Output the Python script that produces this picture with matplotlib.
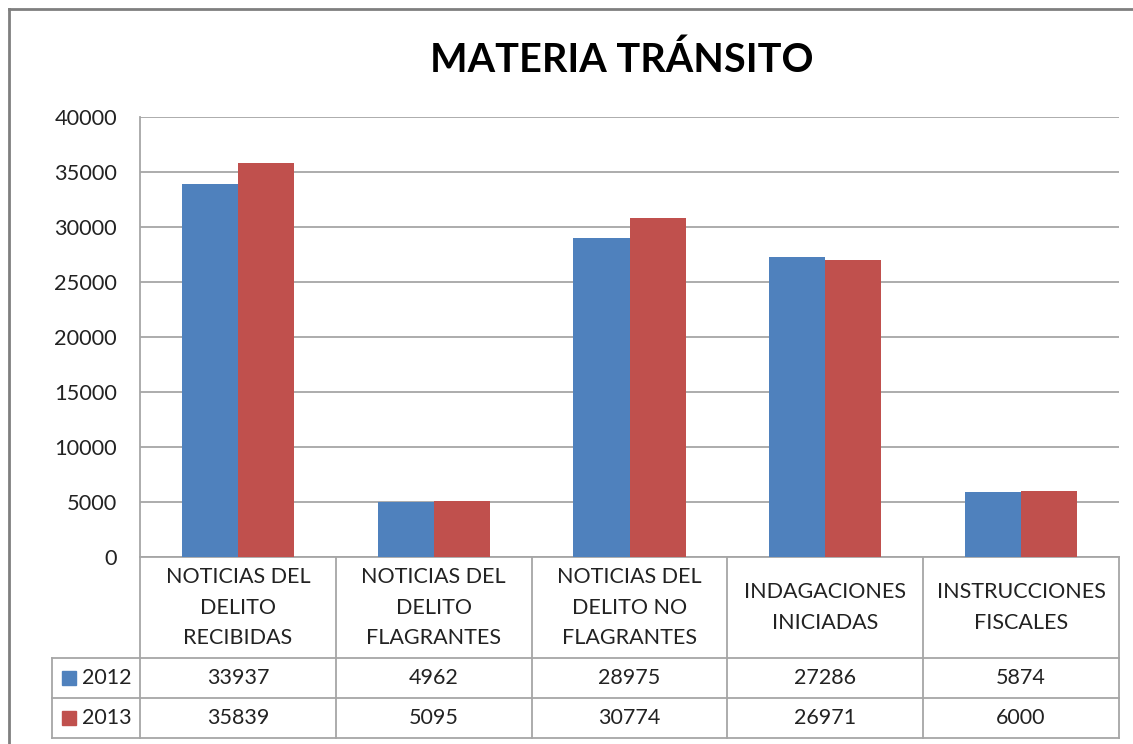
import numpy as np
import matplotlib
matplotlib.use("Agg")
import matplotlib.pyplot as plt
from matplotlib.patches import Rectangle

plt.rcParams['font.family'] = ['Lato', 'DejaVu Sans']

# data
categories = ['NOTICIAS DEL\nDELITO\nRECIBIDAS', 'NOTICIAS DEL\nDELITO\nFLAGRANTES',
              'NOTICIAS DEL\nDELITO NO\nFLAGRANTES', 'INDAGACIONES\nINICIADAS',
              'INSTRUCCIONES\nFISCALES']
years = ['2012', '2013']
v2012 = [33937, 4962, 28975, 27286, 5874]
v2013 = [35839, 5095, 30774, 26971, 6000]
colors = ['#4F81BD', '#C0504D']
grid_c = '#A6A6A6'

W, H = 1133, 744
fig = plt.figure(figsize=(W/100, H/100), dpi=100)
# outer chart frame (only left and top edges visible in the crop)
fig.add_artist(plt.Line2D([9/W, 9/W], [0, 1 - 9/H], color='#7F7F7F', lw=2, transform=fig.transFigure))
fig.add_artist(plt.Line2D([9/W, 1], [1 - 9/H, 1 - 9/H], color='#7F7F7F', lw=2, transform=fig.transFigure))

x0, x1, y0, y1 = 140, 1119, 557, 117
ax = fig.add_axes([x0/W, 1 - y0/H, (x1-x0)/W, (y0-y1)/H])

n = len(categories)
x = np.arange(n)
bw = 0.287
ax.bar(x - bw/2, v2012, bw, color=colors[0], zorder=3)
ax.bar(x + bw/2, v2013, bw, color=colors[1], zorder=3)

ax.set_xlim(-0.5, n - 0.5)
ax.set_ylim(0, 40000)
ax.set_yticks(np.arange(0, 40001, 5000))
ax.yaxis.grid(True, color=grid_c, lw=1.3, zorder=0)
ax.tick_params(axis='y', length=0, labelsize=15.7, pad=16.5, colors='#222222')
ax.set_xticks([])
for s in ['top', 'right', 'bottom']:
    ax.spines[s].set_visible(False)
ax.spines['left'].set_color(grid_c)
ax.spines['left'].set_linewidth(1.3)

fig.text(622/W, 1 - 60/H, 'MATERIA TRÁNSITO', ha='center', va='center',
         fontsize=28.5, fontweight='bold')

# data table below the axes (axes coords for y)
ah = y0 - y1
r1 = -(658 - 557) / ah
r2 = -(698 - 557) / ah
r3 = -(738 - 557) / ah
lx = -(140 - 52) / (x1 - x0)
kw = dict(color=grid_c, lw=1.3, clip_on=False, transform=ax.get_xaxis_transform())
ax.plot([-0.5, n - 0.5], [0, 0], **kw)
for yy in [r1, r2, r3]:
    ax.plot([-0.5, n - 0.5], [yy, yy], **kw)
for i in range(n + 1):
    ax.plot([i - 0.5, i - 0.5], [0, r3], **kw)
kw2 = dict(color=grid_c, lw=1.3, clip_on=False, transform=ax.transAxes)
ax.plot([lx, 0], [r1, r1], **kw2)
ax.plot([lx, 0], [r2, r2], **kw2)
ax.plot([lx, 0], [r3, r3], **kw2)
ax.plot([lx, lx], [r1, r3], **kw2)

tr = ax.get_xaxis_transform()
for i in range(n):
    ax.text(i, r1 / 2, categories[i], ha='center', va='center', fontsize=15.5,
            linespacing=1.65, transform=tr, color='#222222')
    ax.text(i, (r1 + r2) / 2, str(v2012[i]), ha='center', va='center', fontsize=15.5,
            transform=tr, color='#222222')
    ax.text(i, (r2 + r3) / 2, str(v2013[i]), ha='center', va='center', fontsize=15.5,
            transform=tr, color='#222222')

for j, (yr, lo, hi) in enumerate([(years[0], r1, r2), (years[1], r2, r3)]):
    ym = (lo + hi) / 2
    sq = 14 / (x1 - x0)
    sqh = 14 / ah
    ax.add_patch(Rectangle((-(140 - 62) / (x1 - x0), ym - sqh/2), sq, sqh, color=colors[j],
                           transform=ax.transAxes, clip_on=False))
    ax.text(-(140 - 82) / (x1 - x0), ym, yr, ha='left', va='center', fontsize=15.5,
            transform=ax.transAxes, color='#222222')

fig.savefig('out.png', dpi=100)
